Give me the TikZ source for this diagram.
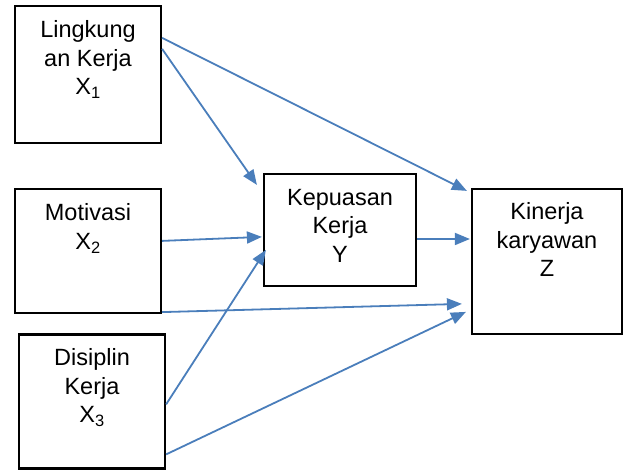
\documentclass[tikz,border=0pt]{standalone}
\usepackage{fontspec}
\setmainfont{Liberation Sans}
\usetikzlibrary{arrows.meta}
\definecolor{arrblue}{HTML}{4A7EBB}
\tikzset{
  box/.style={draw=black, line width=2.2pt, rectangle, inner sep=0pt, fill=white},
  lbl/.style={anchor=base, align=center, inner sep=0pt, font=\fontsize{23.5}{28.5}\selectfont},
  conn/.style={draw=arrblue, line width=1.8pt, -{Triangle[length=15pt,width=12pt]}}
}
\begin{document}
\begin{tikzpicture}[x=1pt,y=-1pt]
\useasboundingbox (0,0) rectangle (625,470);
\node[box, minimum width=146pt, minimum height=137pt] (x1) at (88,74.5) {};
\node[box, minimum width=146pt, minimum height=124pt] (x2) at (88,251) {};
\node[box, minimum width=146pt, minimum height=134pt] (x3) at (92,401.5) {};
\node[box, minimum width=152pt, minimum height=112pt] (y) at (340,230) {};
\node[box, minimum width=150pt, minimum height=145pt] (z) at (547,261.5) {};

\node[lbl] (t1) at ([yshift=-90pt]x1.north) {Lingkung\\an Kerja\\X\textsubscript{1}};
\node[lbl] (t2) at ([yshift=-61.5pt]x2.north) {Motivasi\\X\textsubscript{2}};
\node[lbl] (t3) at ([yshift=-89.5pt]x3.north) {Disiplin\\Kerja\\X\textsubscript{3}};
\node[lbl] (ty) at ([yshift=-89.5pt]y.north) {Kepuasan\\Kerja\\Y};
\node[lbl] (tz) at ([yshift=-89pt]z.north) {Kinerja\\karyawan\\Z};

\draw[conn] ([yshift=-44pt]x1.north east) -- ([xshift=-6pt,yshift=-12pt]y.north west);
\draw[conn] ([yshift=-33pt]x1.north east) -- ([xshift=-4pt,yshift=-3pt]z.north west);
\draw[conn] ([yshift=-53pt]x2.north east) -- ([xshift=-1pt,yshift=-64pt]y.north west);
\draw[conn] ([yshift=2pt]x2.south east) -- ([xshift=-9pt,yshift=-116pt]z.north west);
\draw[conn] ([yshift=-71pt]x3.north east) -- ([xshift=3pt,yshift=-77pt]y.north west);
\draw[conn] ([yshift=-121pt]x3.north east) -- ([xshift=-5pt,yshift=-124pt]z.north west);
\draw[conn] (y.east |- 0,239) -- ([xshift=-1pt]z.west |- 0,239);
\end{tikzpicture}
\end{document}
